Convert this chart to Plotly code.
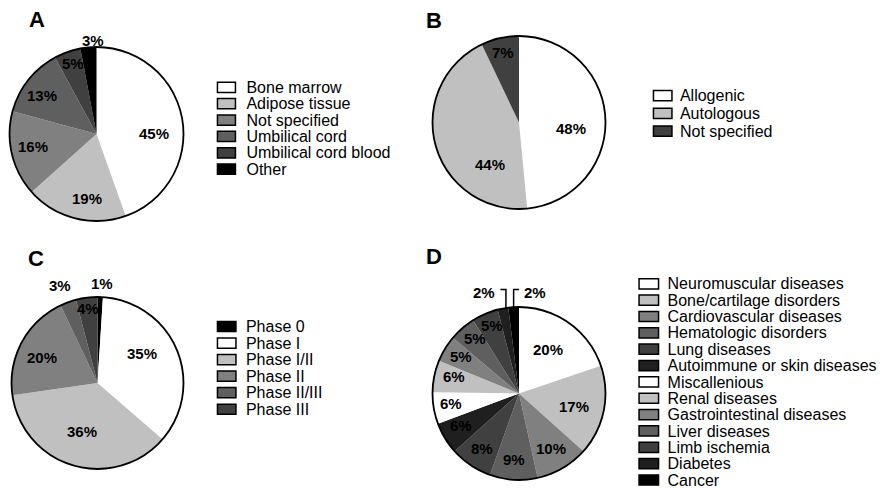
import math
import plotly.graph_objects as go

W, H = 884, 488

# ---------------- data ----------------
a_labels = ["Bone marrow", "Adipose tissue", "Not specified", "Umbilical cord",
            "Umbilical cord blood", "Other"]
a_values = [45, 19, 16, 13, 5, 3]

b_labels = ["Allogenic", "Autologous", "Not specified"]
b_values = [48, 44, 7]

c_labels = ["Phase 0", "Phase I", "Phase I/II", "Phase II", "Phase II/III", "Phase III"]
c_values = [1, 35, 36, 20, 3, 4]

d_labels = ["Neuromuscular diseases", "Bone/cartilage disorders", "Cardiovascular diseases",
            "Hematologic disorders", "Lung diseases", "Autoimmune or skin diseases",
            "Miscallenious", "Renal diseases", "Gastrointestinal diseases", "Liver diseases",
            "Limb ischemia", "Diabetes", "Cancer"]
d_values = [20, 17, 10, 9, 8, 6, 6, 6, 5, 5, 5, 2, 2]

# ---------------- style ----------------
WHITE, G1, G2, G3, G4, G5, BLK = "#ffffff", "#c0c0c0", "#808080", "#5f5f5f", "#404040", "#1f1f1f", "#000000"
a_colors = [WHITE, G1, G2, G3, G4, BLK]
b_colors = [WHITE, G1, G4]
c_colors = [BLK, WHITE, G1, G2, G3, G4]
d_colors = [WHITE, G1, G2, G3, G4, G5, WHITE, G1, G2, G3, G4, G5, BLK]

FONT = "Liberation Sans, Arial, Helvetica, sans-serif"

panels = [
    dict(letter="A", labels=a_labels, values=a_values, colors=a_colors,
         cx=96.5, cy=134, r=87, letter_xy=(36.5, 19.5),
         lab_f=[0.66, 0.75, 0.74, 0.77, 0.85, 1.075],
         lab_dt=[9, -6, 2, -3, 1, 3.4],
         leader=[None] * 6,
         leg=dict(x0=217.45, x1=235.45, y0=87.3, step=16.38, box=10.2, text_x=247.3)),
    dict(letter="B", labels=b_labels, values=b_values, colors=b_colors,
         cx=519, cy=122.5, r=86.5, letter_xy=(433.5, 20),
         lab_f=[0.61, 0.59, 0.83],
         lab_dt=[9.5, -40, 0],
         leader=[None] * 3,
         leg=dict(x0=653.45, x1=671.95, y0=95.7, step=17.75, box=10.2, text_x=680.7)),
    dict(letter="C", labels=c_labels, values=c_values, colors=c_colors,
         cx=97.5, cy=383, r=86, letter_xy=(35.7, 258),
         lab_f=[1.16, 0.62, 0.59, 0.71, 1.22, 0.875],
         lab_dt=[1, -11, 1, -3, -1, 0],
         leader=[None] * 6,
         leg=dict(x0=217.45, x1=235.95, y0=326.5, step=16.55, box=10.2, text_x=247.3)),
    dict(letter="D", labels=d_labels, values=d_values, colors=d_colors,
         cx=519, cy=393.5, r=86.5, letter_xy=(434, 256),
         lab_f=[0.61, 0.65, 0.74, 0.77, 0.76, 0.76, 0.79, 0.78, 0.80, 0.82, 0.85, None, None],
         lab_dt=[-2, 2, 0, 0.7, 0, 2.4, 1, 2.7, 1.6, 2.4, 1.5, 2, 0],
         leader=[None] * 11 + ["left", "right"],
         leg=dict(x0=639.05, x1=658.55, y0=283.8, step=16.35, box=10.2, text_x=668.3)),
]


def px_x(x):
    return min(1.0, max(0.0, x / W))


def px_y(y):
    return min(1.0, max(0.0, 1 - y / H))


def polar(cx, cy, r, ang, f):
    a = math.radians(ang)
    return cx + f * r * math.sin(a), cy - f * r * math.cos(a)


fig = go.Figure()
annotations = []
shapes = []
layout_axes = {}

for i, p in enumerate(panels):
    cx, cy, r = p["cx"], p["cy"], p["r"]
    dom = dict(x=[px_x(cx - r), px_x(cx + r)], y=[px_y(cy + r), px_y(cy - r)])
    # main pie (no slice borders)
    fig.add_trace(go.Pie(
        labels=p["labels"], values=p["values"], sort=False, direction="clockwise",
        rotation=0, domain=dom, textinfo="none", hoverinfo="skip", showlegend=False,
        marker=dict(colors=p["colors"], line=dict(width=0)),
    ))
    # outer circle outline
    fig.add_trace(go.Pie(
        labels=["outline " + p["letter"]], values=[1], sort=False, domain=dom,
        textinfo="none", hoverinfo="skip", showlegend=False,
        marker=dict(colors=["rgba(0,0,0,0)"], line=dict(color="black", width=1.8)),
    ))

    # percentage labels
    total = float(sum(p["values"]))
    cum = 0.0
    for j, v in enumerate(p["values"]):
        mid = (cum + v / 2.0) / total * 360.0
        cum += v
        ang = mid + p["lab_dt"][j]
        txt = "<b>%d%%</b>" % v
        if p["leader"][j] is None:
            x, y = polar(cx, cy, r, ang, p["lab_f"][j])
            annotations.append(dict(x=px_x(x), y=px_y(y), xref="paper", yref="paper",
                                    text=txt, showarrow=False, xanchor="center", yanchor="middle",
                                    font=dict(family=FONT, size=15, color="black")))
        else:
            xe, ye = polar(cx, cy, r, ang, 1.0)
            ylev = cy - r - 17.5
            sgn = -1 if p["leader"][j] == "left" else 1
            xh = xe + sgn * 5.5
            shapes.append(dict(type="path", xref="paper", yref="paper",
                               path="M %f %f L %f %f L %f %f" % (px_x(xe), px_y(ye), px_x(xe), px_y(ylev),
                                                                px_x(xh), px_y(ylev)),
                               line=dict(color="black", width=1.5)))
            annotations.append(dict(x=px_x(xh + sgn * 3), y=px_y(ylev + 2.5), xref="paper", yref="paper",
                                    text=txt, showarrow=False,
                                    xanchor="right" if sgn < 0 else "left", yanchor="middle",
                                    font=dict(family=FONT, size=15, color="black")))

    # panel letter
    lx, ly = p["letter_xy"]
    annotations.append(dict(x=px_x(lx), y=px_y(ly), xref="paper", yref="paper",
                            text="<b>%s</b>" % p["letter"], showarrow=False,
                            xanchor="center", yanchor="middle",
                            font=dict(family=FONT, size=22, color="black")))

    # legend drawn as a small bar chart with labels as tick text
    leg = p["leg"]
    n = len(p["labels"])
    pad = 2.0
    bw = leg["x1"] - leg["x0"]
    pr = pad / bw
    top = leg["y0"] - leg["step"] / 2
    bot = min(H, leg["y0"] + (n - 1) * leg["step"] + leg["step"] / 2)
    k = "" if i == 0 else str(i + 1)
    fig.add_trace(go.Bar(
        orientation="h", y=p["labels"], x=[1] * n, base=0, width=leg["box"] / leg["step"],
        marker=dict(color=p["colors"], line=dict(color="black", width=1.5)),
        xaxis="x" + k, yaxis="y" + k, hoverinfo="skip", showlegend=False,
    ))
    layout_axes["xaxis" + k] = dict(domain=[px_x(leg["x0"] - pad), px_x(leg["x1"] + pad)],
                                    range=[-pr, 1 + pr], visible=False, fixedrange=True,
                                    anchor="y" + k)
    layout_axes["yaxis" + k] = dict(domain=[px_y(bot), px_y(top)], type="category",
                                    categoryorder="array", categoryarray=p["labels"],
                                    tickmode="array", tickvals=p["labels"], ticktext=p["labels"],
                                    range=[(bot - top) / leg["step"] - 0.5, -0.5],
                                    side="right", anchor="x" + k,
                                    showgrid=False, zeroline=False, showline=False, ticks="",
                                    ticklabelstandoff=int(round(max(0, leg["text_x"] - (leg["x1"] + pad) - 2))),
                                    tickfont=dict(family=FONT, size=16, color="black"),
                                    fixedrange=True)

fig.update_layout(
    width=W, height=H, margin=dict(l=0, r=0, t=0, b=0),
    paper_bgcolor="white", plot_bgcolor="rgba(0,0,0,0)",
    showlegend=False, annotations=annotations, shapes=shapes,
    font=dict(family=FONT, color="black"),
    **layout_axes,
)

fig.write_html("out.html", config={"displayModeBar": False},
               post_script="document.body.style.margin='0px';document.body.style.padding='0px';")
